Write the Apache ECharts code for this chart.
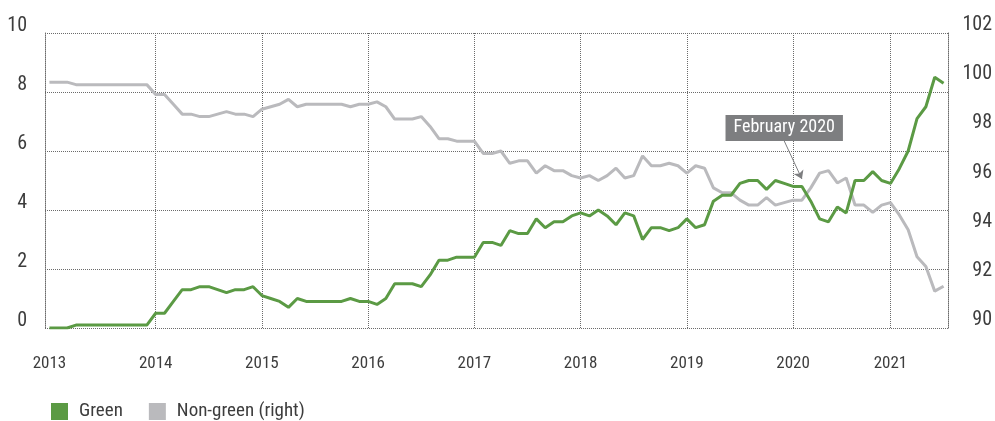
<!DOCTYPE html>
<html>
<head>
<meta charset="utf-8">
<script src="https://cdn.jsdelivr.net/npm/echarts@6/dist/echarts.min.js"></script>
<style>
  html, body { margin: 0; padding: 0; background: #fff; }
  #chart { width: 995px; height: 421px; }
</style>
</head>
<body>
<div id="chart"></div>
<script>
// months shown per year (2020 has one month fewer in the source series)
var years = [2013, 2014, 2015, 2016, 2017, 2018, 2019, 2020, 2021];
var monthsPerYear = [12, 12, 12, 12, 12, 12, 12, 11, 7];

var green = [
  0, 0, 0, 0.1, 0.1, 0.1, 0.1, 0.1, 0.1, 0.1, 0.1, 0.1,
  0.5, 0.5, 0.9, 1.3, 1.3, 1.4, 1.4, 1.3, 1.2, 1.3, 1.3, 1.4,
  1.1, 1.0, 0.9, 0.7, 1.0, 0.9, 0.9, 0.9, 0.9, 0.9, 1.0, 0.9,
  0.9, 0.8, 1.0, 1.5, 1.5, 1.5, 1.4, 1.8, 2.3, 2.3, 2.4, 2.4,
  2.4, 2.9, 2.9, 2.8, 3.3, 3.2, 3.2, 3.7, 3.4, 3.6, 3.6, 3.8,
  3.9, 3.8, 4.0, 3.8, 3.5, 3.9, 3.8, 3.0, 3.4, 3.4, 3.3, 3.4,
  3.7, 3.4, 3.5, 4.3, 4.5, 4.5, 4.9, 5.0, 5.0, 4.7, 5.0, 4.9,
  4.8, 4.8, 4.3, 3.7, 3.6, 4.1, 3.9, 5.0, 5.0, 5.3, 5.0,
  4.9, 5.4, 6.0, 7.1, 7.5, 8.5, 8.3
];

var nonGreen = [
  100.0, 100.0, 100.0, 99.9, 99.9, 99.9, 99.9, 99.9, 99.9, 99.9, 99.9, 99.9,
  99.5, 99.5, 99.1, 98.7, 98.7, 98.6, 98.6, 98.7, 98.8, 98.7, 98.7, 98.6,
  98.9, 99.0, 99.1, 99.3, 99.0, 99.1, 99.1, 99.1, 99.1, 99.1, 99.0, 99.1,
  99.1, 99.2, 99.0, 98.5, 98.5, 98.5, 98.6, 98.2, 97.7, 97.7, 97.6, 97.6,
  97.6, 97.1, 97.1, 97.2, 96.7, 96.8, 96.8, 96.3, 96.6, 96.4, 96.4, 96.2,
  96.1, 96.2, 96.0, 96.2, 96.5, 96.1, 96.2, 97.0, 96.6, 96.6, 96.7, 96.6,
  96.3, 96.6, 96.5, 95.7, 95.5, 95.5, 95.2, 95.0, 95.0, 95.3, 95.0, 95.1,
  95.2, 95.2, 95.7, 96.3, 96.4, 95.9, 96.1, 95.0, 95.0, 94.7, 95.0,
  95.1, 94.6, 94.0, 92.9, 92.5, 91.5, 91.7
];

var annotationText = 'February 2020';

var categories = [];
years.forEach(function (y, i) {
  for (var m = 1; m <= monthsPerYear[i]; m++) {
    categories.push(y + '-' + (m < 10 ? '0' + m : m));
  }
});

var yearLines = years.slice(1).map(function (y) { return { xAxis: y + '-01' }; });

var font = "'Liberation Sans Narrow', 'Roboto Condensed', 'DejaVu Sans Condensed', 'Liberation Sans', sans-serif";
var gridColor = '#6b6b6b';
var textColor = '#3d3d3d';

var myChart = echarts.init(document.getElementById('chart'));

var option = {
  animation: false,
  grid: { left: 45, right: 47, top: 33, bottom: 93 },
  legend: {
    left: 46,
    top: 397,
    icon: 'rect',
    itemWidth: 17,
    itemHeight: 17,
    itemGap: 26,
    textStyle: { fontFamily: font, fontSize: 19, color: textColor, padding: [0, 0, 0, 6] },
    data: ['Green', 'Non-green (right)']
  },
  xAxis: {
    type: 'category',
    data: categories,
    boundaryGap: true,
    axisLine: { show: false },
    axisTick: { show: false },
    splitLine: { show: false },
    axisLabel: {
      interval: function (idx, val) { return val.slice(5) === '01'; },
      formatter: function (val) { return val.slice(0, 4); },
      margin: 27,
      fontFamily: font,
      fontSize: 17,
      color: textColor
    }
  },
  yAxis: [
    {
      type: 'value',
      min: 0, max: 10, interval: 2,
      axisLine: { show: true, lineStyle: { color: gridColor, type: 'dotted', width: 1 } },
      axisTick: { show: false },
      splitLine: { lineStyle: { color: gridColor, type: 'dotted', width: 1 } },
      axisLabel: {
        margin: 18, fontFamily: font, fontSize: 20, color: textColor,
        verticalAlign: 'bottom', lineHeight: 15
      }
    },
    {
      type: 'value',
      min: 90, max: 102, interval: 2,
      position: 'right',
      axisLine: { show: true, lineStyle: { color: gridColor, type: 'dotted', width: 1 } },
      axisTick: { show: false },
      splitLine: { show: false },
      axisLabel: {
        margin: 44, align: 'right', fontFamily: font, fontSize: 20, color: textColor,
        verticalAlign: 'bottom', lineHeight: 16
      }
    }
  ],
  series: [
    {
      name: 'Green',
      type: 'line',
      yAxisIndex: 0,
      data: green,
      symbol: 'none',
      z: 3,
      itemStyle: { color: '#5b9a44' },
      lineStyle: { color: '#5b9a44', width: 3 },
      markLine: {
        silent: true,
        z: 1,
        symbol: 'none',
        label: { show: false },
        lineStyle: { color: gridColor, type: 'dotted', width: 1 },
        data: yearLines
      }
    },
    {
      name: 'Non-green (right)',
      type: 'line',
      yAxisIndex: 1,
      data: nonGreen,
      symbol: 'none',
      z: 2,
      itemStyle: { color: '#bababd' },
      lineStyle: { color: '#bababd', width: 3 }
    },
    {
      // annotation pointing at February 2020
      name: 'annotation',
      type: 'line',
      yAxisIndex: 0,
      data: [],
      markPoint: {
        silent: true,
        symbol: 'rect',
        symbolSize: 0,
        data: [{ coord: ['2019-12', 6.34] }],
        label: {
          show: true,
          position: 'top',
          distance: 0,
          formatter: annotationText,
          backgroundColor: '#7d7e80',
          color: '#ffffff',
          fontFamily: font,
          fontSize: 18,
          padding: [4, 8, 4, 8]
        }
      },
      markLine: {
        silent: true,
        symbol: ['none', 'arrow'],
        symbolSize: 8,
        label: { show: false },
        lineStyle: { color: '#7d7e80', type: 'solid', width: 1 },
        data: [[{ coord: ['2019-12', 6.34] }, { coord: ['2020-02', 5.05] }]]
      }
    }
  ]
};

myChart.setOption(option);
</script>
</body>
</html>
